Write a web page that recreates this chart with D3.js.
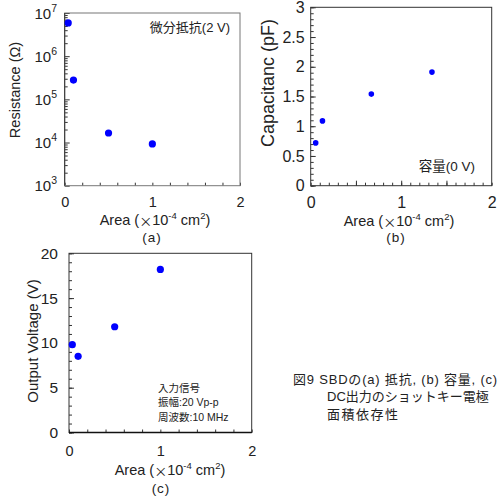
<!DOCTYPE html>
<html>
<head>
<meta charset="utf-8">
<script src="https://cdn.jsdelivr.net/npm/d3@7"></script>
<style>
  body { margin: 0; background: #fff; }
  svg { font-family: "Liberation Sans", Arial, "Noto Sans CJK JP", sans-serif; }
</style>
</head>
<body>
<div id="chart"></div>
<script>
// data (area in 1e-4 cm2)
var areaA = [0.04, 0.10, 0.50, 1.00];
var resistance = [5.9e6, 2.8e5, 1.66e4, 9.3e3];

var areaB = [0.055, 0.13, 0.67, 1.34];
var capacitance = [0.72, 1.09, 1.54, 1.91];

var areaC = [0.036, 0.10, 0.50, 1.00];
var outputVoltage = [9.8, 8.5, 11.8, 18.2];

var xMajor = [0, 1, 2];
var resTicks = [3, 4, 5, 6, 7];
var capTicks = [0, 0.5, 1, 1.5, 2, 2.5, 3];
var voltTicks = [0, 5, 10, 15, 20];

var FONT = "Liberation Sans, Arial, sans-serif";
var JFONT = "'Liberation Sans', 'Noto Sans CJK JP', sans-serif";

var svg = d3.select("#chart").append("svg")
    .attr("width", 497)
    .attr("height", 497);

// area title with superscripts
function areaTitle(g, cx, cy) {
    var t = g.append("text")
        .attr("x", cx).attr("y", cy)
        .attr("text-anchor", "middle")
        .attr("dominant-baseline", "central")
        .attr("font-size", 14.5).attr("fill", "#222");
    t.append("tspan").text("Area (");
    t.append("tspan").attr("font-family", "Noto Sans CJK JP").attr("font-size", 13).text("\u00d7");
    t.append("tspan").text("10");
    t.append("tspan").attr("font-size", 9.5).attr("dy", -5).text("-4");
    t.append("tspan").attr("dy", 5).text(" cm");
    t.append("tspan").attr("font-size", 9.5).attr("dy", -5).text("2");
    t.append("tspan").attr("dy", 5).text(")");
}

function frame(g, x, y, color) {
    var x0 = x.range()[0], x1 = x.range()[1];
    var y0 = y.range()[0], y1 = y.range()[1];
    g.append("rect")
        .attr("x", x0).attr("y", y1)
        .attr("width", x1 - x0).attr("height", y0 - y1)
        .attr("fill", "none")
        .attr("stroke", color)
        .attr("stroke-width", 1);
}

function xTicks(g, x, y, step, pad, fs) {
    var minor = d3.range(0, 2 + 1e-9, step);
    g.append("g")
        .attr("transform", "translate(0," + y.range()[0] + ")")
        .call(d3.axisBottom(x).tickValues(minor).tickSize(-3).tickFormat(""))
        .call(a => a.select(".domain").remove())
        .call(a => a.selectAll("line").attr("stroke", "#333"));
    g.append("g")
        .attr("transform", "translate(0," + y.range()[0] + ")")
        .call(d3.axisBottom(x).tickValues(xMajor).tickSize(0).tickPadding(pad).tickFormat(d3.format("d")))
        .call(a => a.select(".domain").remove())
        .call(a => a.selectAll("text").attr("font-size", fs).attr("fill", "#222")
            .attr("font-family", FONT));
}

function caseLabel(g, x, y, s) {
    g.append("text")
        .attr("x", x).attr("y", y)
        .attr("text-anchor", "middle").attr("dominant-baseline", "central")
        .attr("font-size", 13.5).attr("fill", "#222")
        .attr("letter-spacing", 1)
        .text(s);
}

// ---------- (a) resistance, log scale ----------
var ga = svg.append("g");
var xa = d3.scaleLinear().domain([0, 2]).range([64.7, 240]);
var ya = d3.scaleLog().domain([1e3, 1e7]).range([185.7, 13]);

var logMinor = [];
resTicks.slice(0, 4).forEach(function(e) {
    for (var k = 2; k <= 9; k++) logMinor.push(k * Math.pow(10, e));
});
ga.append("g")
    .attr("transform", "translate(" + xa.range()[0] + ",0)")
    .call(d3.axisLeft(ya).tickValues(logMinor).tickSize(-3).tickFormat(""))
    .call(a => a.select(".domain").remove())
    .call(a => a.selectAll("line").attr("stroke", "#333"));
ga.append("g")
    .attr("transform", "translate(" + xa.range()[0] + ",0)")
    .call(d3.axisLeft(ya).tickValues(resTicks.map(e => Math.pow(10, e))).tickSize(-5).tickFormat(""))
    .call(a => a.select(".domain").remove())
    .call(a => a.selectAll("line").attr("stroke", "#333"));
xTicks(ga, xa, ya, 0.2, 11, 14.5);
frame(ga, xa, ya, "#777");
ga.append("line")
    .attr("x1", xa.range()[0]).attr("x2", xa.range()[0])
    .attr("y1", ya.range()[0]).attr("y2", ya.range()[1])
    .attr("stroke", "#333");

resTicks.forEach(function(e) {
    var t = ga.append("text")
        .attr("x", 57).attr("y", ya(Math.pow(10, e)) + 5.5)
        .attr("text-anchor", "end")
        .attr("font-size", 15).attr("fill", "#222");
    t.append("tspan").text("10");
    t.append("tspan").attr("font-size", 10.5).attr("dy", -7).text(e);
});

ga.selectAll(".pt")
    .data(areaA.map((d, i) => [d, resistance[i]]))
    .enter().append("circle")
    .attr("class", "pt")
    .attr("cx", d => xa(d[0]))
    .attr("cy", d => ya(d[1]))
    .attr("r", 3.6)
    .attr("fill", "#0000ff");

ga.append("text")
    .attr("transform", "translate(15,90) rotate(-90)")
    .attr("text-anchor", "middle").attr("dominant-baseline", "central")
    .attr("font-size", 14.5).attr("fill", "#222")
    .text("Resistance (\u03a9)");
ga.append("text")
    .attr("x", 230).attr("y", 27)
    .attr("text-anchor", "end").attr("dominant-baseline", "central")
    .attr("font-family", JFONT)
    .attr("font-size", 13).attr("fill", "#222")
    .text("微分抵抗(2 V)");
areaTitle(ga, 155, 220);
caseLabel(ga, 152, 237, "(a)");

// ---------- (b) capacitance ----------
var gb = svg.append("g");
var xb = d3.scaleLinear().domain([0, 2]).range([310.7, 491.7]);
var yb = d3.scaleLinear().domain([0, 3]).range([185.7, 7.3]);

gb.append("g")
    .attr("transform", "translate(" + xb.range()[0] + ",0)")
    .call(d3.axisLeft(yb).tickValues(d3.range(0, 3.0001, 0.1)).tickSize(-3).tickFormat(""))
    .call(a => a.select(".domain").remove())
    .call(a => a.selectAll("line").attr("stroke", "#333"));
gb.append("g")
    .attr("transform", "translate(" + xb.range()[0] + ",0)")
    .call(d3.axisLeft(yb).tickValues(capTicks).tickSize(-5).tickPadding(6).tickFormat(d3.format("")))
    .call(a => a.select(".domain").remove())
    .call(a => a.selectAll("line").attr("stroke", "#333"))
    .call(a => a.selectAll("text").attr("font-size", 16).attr("fill", "#222")
        .attr("font-family", FONT));
gb.append("g")
    .attr("transform", "translate(0," + yb.range()[0] + ")")
    .call(d3.axisBottom(xb).tickValues([0.5, 1, 1.5]).tickSize(-5).tickFormat(""))
    .call(a => a.select(".domain").remove())
    .call(a => a.selectAll("line").attr("stroke", "#333"));
xTicks(gb, xb, yb, 0.1, 11, 16);
frame(gb, xb, yb, "#333");

gb.selectAll(".pt")
    .data(areaB.map((d, i) => [d, capacitance[i]]))
    .enter().append("circle")
    .attr("class", "pt")
    .attr("cx", d => xb(d[0]))
    .attr("cy", d => yb(d[1]))
    .attr("r", 2.8)
    .attr("fill", "#0000ff");

gb.append("text")
    .attr("transform", "translate(268,83) rotate(-90)")
    .attr("text-anchor", "middle").attr("dominant-baseline", "central")
    .attr("font-size", 18).attr("fill", "#222")
    .text("Capacitanc (pF)");
gb.append("text")
    .attr("x", 475).attr("y", 166)
    .attr("text-anchor", "end").attr("dominant-baseline", "central")
    .attr("font-family", JFONT)
    .attr("font-size", 13.5).attr("fill", "#222")
    .text("容量(0 V)");
areaTitle(gb, 399, 221);
caseLabel(gb, 396, 237, "(b)");

// ---------- (c) output voltage ----------
var gc = svg.append("g");
var xc = d3.scaleLinear().domain([0, 2]).range([69, 251.7]);
var yc = d3.scaleLinear().domain([0, 20]).range([432.5, 253.3]);

gc.append("g")
    .attr("transform", "translate(" + xc.range()[0] + ",0)")
    .call(d3.axisLeft(yc).tickValues(d3.range(0, 21, 1)).tickSize(-3).tickFormat(""))
    .call(a => a.select(".domain").remove())
    .call(a => a.selectAll("line").attr("stroke", "#333"));
gc.append("g")
    .attr("transform", "translate(" + xc.range()[0] + ",0)")
    .call(d3.axisLeft(yc).tickValues(voltTicks).tickSize(-5).tickPadding(11).tickFormat(d3.format("d")))
    .call(a => a.select(".domain").remove())
    .call(a => a.selectAll("line").attr("stroke", "#333"))
    .call(a => a.selectAll("text").attr("font-size", 15.5).attr("fill", "#222")
        .attr("font-family", FONT));
xTicks(gc, xc, yc, 0.2, 13, 14.5);
frame(gc, xc, yc, "#333");
gc.append("line")
    .attr("x1", xc.range()[0]).attr("x2", xc.range()[1])
    .attr("y1", yc.range()[0]).attr("y2", yc.range()[0])
    .attr("stroke", "#111").attr("stroke-width", 1.6);

gc.selectAll(".pt")
    .data(areaC.map((d, i) => [d, outputVoltage[i]]))
    .enter().append("circle")
    .attr("class", "pt")
    .attr("cx", d => xc(d[0]))
    .attr("cy", d => yc(d[1]))
    .attr("r", 3.6)
    .attr("fill", "#0000ff");

gc.append("text")
    .attr("transform", "translate(32,341) rotate(-90)")
    .attr("text-anchor", "middle").attr("dominant-baseline", "central")
    .attr("font-size", 15).attr("fill", "#222")
    .text("Output Voltage (V)");
var note = ["入力信号", "振幅:20 Vp-p", "周波数:10 MHz"];
gc.selectAll(".note")
    .data(note)
    .enter().append("text")
    .attr("class", "note")
    .attr("x", 158)
    .attr("y", (d, i) => 388 + i * 14.3)
    .attr("dominant-baseline", "central")
    .attr("font-family", JFONT)
    .attr("font-size", 10.5).attr("fill", "#222")
    .text(d => d);
areaTitle(gc, 170, 470);
caseLabel(gc, 161, 488, "(c)");

// ---------- caption ----------
var caption = [
    {x: 293, y: 379, t: "図9 SBDの(a) 抵抗, (b) 容量, (c)", ls: 0.8},
    {x: 327, y: 396.5, t: "DC出力のショットキー電極", ls: 0},
    {x: 327, y: 414, t: "面積依存性", ls: 1.5}
];
svg.selectAll(".cap")
    .data(caption)
    .enter().append("text")
    .attr("class", "cap")
    .attr("x", d => d.x).attr("y", d => d.y)
    .attr("dominant-baseline", "central")
    .attr("font-family", JFONT)
    .attr("letter-spacing", d => d.ls)
    .attr("font-size", 13).attr("fill", "#222")
    .text(d => d.t);
</script>
</body>
</html>
